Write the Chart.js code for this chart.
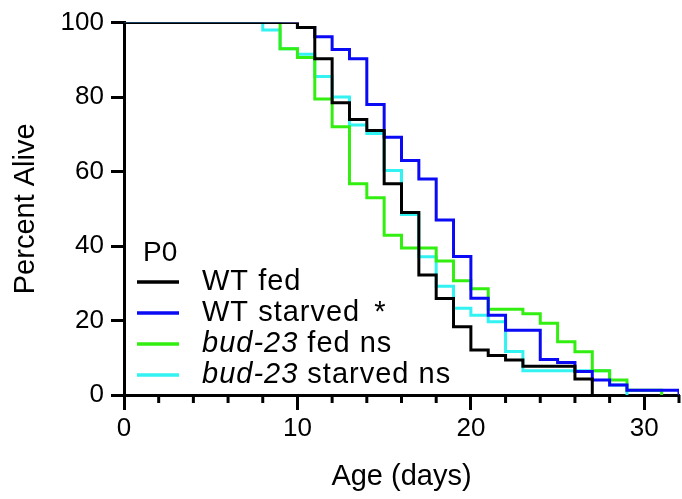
<!DOCTYPE html>
<html>
<head>
<meta charset="utf-8">
<script src="https://cdn.jsdelivr.net/npm/chart.js@4/dist/chart.umd.min.js"></script>
<style>
html, body { margin: 0; padding: 0; background: #fff; }
canvas { display: block; }
</style>
</head>
<body>
<canvas id="survivalChart" width="682" height="499"></canvas>
<script>
// survival data (day of drop, percent alive after it)
const wtFedDays = [0, 10, 11, 12, 13, 14, 15, 16, 17, 18, 19, 20, 21, 22, 23, 26, 27];
const wtFedPct  = [100, 98.7, 90.3, 78.5, 74, 71, 56.7, 49, 32.2, 25.9, 18.3, 12.1, 10.6, 9.4, 7.7, 4.3, 0];

const wtStarvedDays = [0, 10, 11, 12, 13, 14, 15, 16, 17, 18, 19, 20, 21, 22, 24, 25, 26, 27, 28, 29, 32];
const wtStarvedPct  = [100, 98.7, 96.2, 92.8, 90.3, 78, 69.2, 63, 58, 47, 37.2, 26, 21.4, 17.4, 9.5, 8.7, 6.3, 4, 2.7, 1.3, 0];

const budFedDays = [0, 9, 10, 11, 12, 13, 14, 15, 16, 18, 19, 20, 21, 23, 24, 25, 26, 27, 28, 29, 31];
const budFedPct  = [100, 93, 90.6, 79.5, 72, 56.7, 53, 42.9, 39.5, 36, 30.7, 28.5, 23, 21.8, 19.3, 14.3, 11.6, 6.5, 4, 1.3, 0];

const budStarvedDays = [0, 8, 9, 10, 11, 12, 13, 14, 15, 16, 17, 18, 19, 20, 21, 22, 23, 28, 29];
const budStarvedPct  = [100, 98, 93, 91.5, 85.5, 80, 72.5, 70.2, 60.3, 48.5, 37.1, 29.2, 23.3, 21.4, 19.7, 11.7, 6.5, 2.7, 0];

const xLabelTicks = [0, 10, 20, 30];
const legendTitle = 'P0';
const legendRows = [
    [{ t: 'WT fed' }],
    [{ t: 'WT starved' }, { t: '*', gap: 14 }],
    [{ t: 'bud-23', italic: true }, { t: ' fed ns' }],
    [{ t: 'bud-23', italic: true }, { t: ' starved ns' }]
];

const FONT = "'Liberation Sans', Arial, Helvetica, sans-serif";
const steps = (days, pct) => days.map((d, i) => ({ x: d, y: pct[i] }));

// 次刻度
const minorTicks = {
    id: 'minorTicks',
    afterDraw(chart) {
        const xs = chart.scales.x, ctx = chart.ctx;
        ctx.save();
        ctx.strokeStyle = '#000';
        ctx.lineWidth = 3;
        xs.ticks.forEach(t => {
            if (t.value % 10 === 0) return;
            const px = xs.getPixelForValue(t.value);
            ctx.beginPath();
            ctx.moveTo(px, xs.top);
            ctx.lineTo(px, xs.top + 8);
            ctx.stroke();
        });
        ctx.restore();
    }
};

// 图例
const p0Legend = {
    id: 'p0Legend',
    afterDraw(chart) {
        const ctx = chart.ctx;
        ctx.save();
        ctx.fillStyle = '#000';
        ctx.textBaseline = 'alphabetic';
        ctx.font = `28px ${FONT}`;
        ctx.fillText(legendTitle, 143, 261);
        ctx.letterSpacing = '1px';
        legendRows.forEach((row, i) => {
            const base = 290 + i * 31;
            ctx.strokeStyle = chart.data.datasets[i].borderColor;
            ctx.lineWidth = 3.5;
            ctx.beginPath();
            ctx.moveTo(137, base - 8);
            ctx.lineTo(179, base - 8);
            ctx.stroke();
            let x = 202;
            row.forEach(part => {
                ctx.font = `${part.italic ? 'italic ' : ''}29px ${FONT}`;
                x += part.gap || 0;
                ctx.fillText(part.t, x, base);
                x += ctx.measureText(part.t).width;
            });
        });
        ctx.restore();
    }
};

new Chart(document.getElementById('survivalChart'), {
    type: 'line',
    data: {
        datasets: [
            { label: 'WT fed', data: steps(wtFedDays, wtFedPct), borderColor: '#000000' },
            { label: 'WT starved', data: steps(wtStarvedDays, wtStarvedPct), borderColor: '#0A0AF5' },
            { label: 'bud-23 fed', data: steps(budFedDays, budFedPct), borderColor: '#33EE11' },
            { label: 'bud-23 starved', data: steps(budStarvedDays, budStarvedPct), borderColor: '#33F2F2' }
        ]
    },
    options: {
        responsive: false,
        animation: false,
        devicePixelRatio: 1,
        layout: { padding: { top: 22, right: 1, left: 0, bottom: 0 } },
        elements: {
            line: { borderWidth: 3, stepped: 'before', tension: 0, fill: false },
            point: { radius: 0 }
        },
        plugins: { legend: { display: false }, tooltip: { enabled: false } },
        scales: {
            x: {
                type: 'linear', min: 0, max: 32,
                afterFit: s => { s.height = 104; },
                border: { color: '#000', width: 3 },
                grid: {
                    drawOnChartArea: false, tickLength: 15, tickWidth: 3,
                    tickColor: c => (c.tick && c.tick.value % 10 === 0) ? '#000' : 'rgba(0,0,0,0)'
                },
                ticks: {
                    stepSize: 2, autoSkip: false, maxRotation: 0, padding: 3, color: '#000',
                    font: { family: FONT, size: 26 },
                    callback: v => xLabelTicks.includes(v) ? String(v) : ''
                },
                title: {
                    display: true, text: 'Age (days)', color: '#000',
                    font: { family: FONT, size: 29 }, padding: { top: 0, bottom: 5 }
                }
            },
            y: {
                min: 0, max: 100,
                afterFit: s => { s.width = 124; },
                border: { color: '#000', width: 3 },
                grid: { drawOnChartArea: false, tickLength: 13, tickWidth: 3, tickColor: '#000' },
                ticks: { stepSize: 20, padding: 7, color: '#000', font: { family: FONT, size: 26 } },
                title: {
                    display: true, text: 'Percent Alive', color: '#000',
                    font: { family: FONT, size: 29 }, padding: { top: 9, bottom: 0 }
                }
            }
        }
    },
    plugins: [minorTicks, p0Legend]
});
</script>
</body>
</html>
